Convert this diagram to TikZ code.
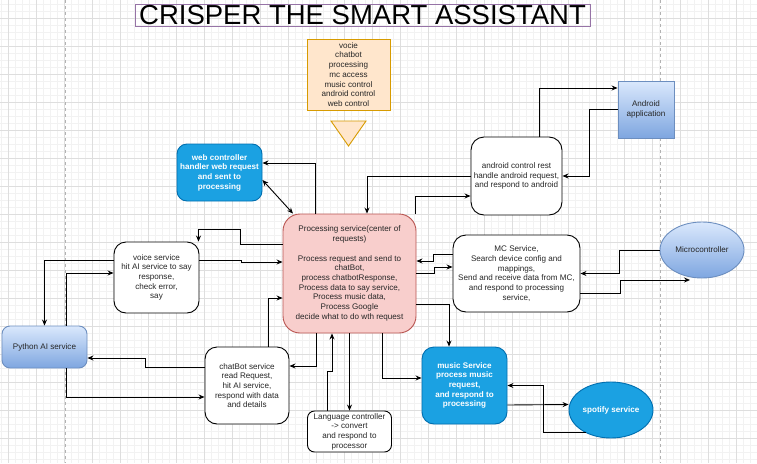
\documentclass[tikz,border=0pt]{standalone}
\usepackage{fontspec}
\setmainfont{Liberation Sans}
\usetikzlibrary{arrows.meta,shapes.geometric}
\definecolor{blaufill}{HTML}{1BA1E2}
\definecolor{blaurand}{HTML}{006EAF}
\definecolor{rotfill}{HTML}{F8CECC}
\definecolor{rotrand}{HTML}{B85450}
\definecolor{orfill}{HTML}{FFE6CC}
\definecolor{orrand}{HTML}{D79B00}
\definecolor{hellblau}{HTML}{DAE8FC}
\definecolor{mittelblau}{HTML}{7EA6E0}
\definecolor{blaurahmen}{HTML}{6C8EBF}
\definecolor{lila}{HTML}{9673A6}
\definecolor{gitterfein}{HTML}{F2F2F2}
\definecolor{gitter}{HTML}{DEDEDE}
\definecolor{schrift}{HTML}{262626}
\begin{document}
\begin{tikzpicture}[x=1pt,y=-1pt]
\tikzset{kasten/.style={draw=black,fill=white,rounded corners=12pt,align=center,line width=0.9pt,inner sep=1pt,text=schrift,font=\fontsize{8.1}{9.7}\selectfont},
  blaukasten/.style={kasten,fill=blaufill,draw=blaurand,text=white,font=\fontsize{8.1}{9.7}\selectfont\bfseries},
  verlauf/.style={kasten,top color=hellblau,bottom color=mittelblau,draw=blaurahmen,rounded corners=0pt},
  pfeil/.style={-{Stealth[length=6pt,width=5pt]},line width=0.9pt},
  doppelpfeil/.style={{Stealth[length=6pt,width=5pt]}-{Stealth[length=6pt,width=5pt]},line width=0.9pt}}
\useasboundingbox (0,0) rectangle (757,463);
\fill[white] (0,0) rectangle (757,463);
% Raster
\foreach \gx in {1,8,...,757} \draw[gitterfein,line width=0.5pt] (\gx,0) -- (\gx,463);
\foreach \gy in {4,11,...,463} \draw[gitterfein,line width=0.5pt] (0,\gy) -- (757,\gy);
\foreach \gx in {8,36,...,757} \draw[gitter,line width=0.7pt] (\gx,0) -- (\gx,463);
\foreach \gy in {18,46,...,463} \draw[gitter,line width=0.7pt] (0,\gy) -- (757,\gy);
\draw[black!30,line width=0.7pt,dash pattern=on 3pt off 3pt] (65,0) -- (65,463);
\draw[black!30,line width=0.7pt,dash pattern=on 3pt off 3pt] (660,0) -- (660,463);
% Knoten
\node[draw=lila,line width=0.8pt,minimum width=455pt,minimum height=22pt,inner sep=1pt,text height=19pt,text depth=1pt,font=\fontsize{27.5}{30}\selectfont] (title) at (362.5,15) {CRISPER THE SMART ASSISTANT};
\node[kasten,fill=orfill,draw=orrand,rounded corners=0pt,minimum width=83pt,minimum height=71pt] (roles) at (348.5,74.5) {vocie\\chatbot\\processing\\mc access\\music control\\android control\\web control};
\draw[fill=orfill,draw=orrand,line width=0.9pt] (331,121) -- (366,121) -- (348.5,146) -- cycle;
\node[blaukasten,rounded corners=10pt,minimum width=85pt,minimum height=57pt] (web) at (219.5,172.5) {web controller\\handler web request\\and sent to\\processing};
\node[kasten,fill=rotfill,draw=rotrand,rounded corners=17pt,minimum width=133pt,minimum height=119pt] (proc) at (349.5,273.5) {Processing service(center of\\requests)\\[9.7pt]Process request and send to\\chatBot,\\process chatbotResponse,\\Process data to say service,\\Process music data,\\Process Google\\decide what to do wth request};
\node[kasten,rounded corners=13pt,minimum width=91pt,minimum height=78pt] (andrest) at (516.5,176) {android control rest\\handle android request,\\and respond to android};
\node[verlauf,minimum width=56pt,minimum height=57pt] (andapp) at (646,109.5) {Android\\application};
\node[kasten,rounded corners=13pt,minimum width=127pt,minimum height=77pt] (mc) at (516.5,273.5) {MC Service,\\Search device config and\\mappings,\\Send and receive data from MC,\\and respond to processing\\service,};
\node[verlauf,ellipse,minimum width=84pt,minimum height=56pt] (micro) at (702,250) {Microcontroller};
\node[kasten,rounded corners=12pt,minimum width=85pt,minimum height=71pt] (voice) at (156.5,277.5) {voice service\\hit AI service to say\\response,\\check error,\\say};
\node[verlauf,rounded corners=8pt,minimum width=85pt,minimum height=42pt] (python) at (44.5,347) {Python AI service};
\node[kasten,rounded corners=12pt,minimum width=84pt,minimum height=77pt] (chatbot) at (247,385.5) {chatBot service\\read Request,\\hit AI service,\\respond with data\\and details};
\node[kasten,rounded corners=7pt,minimum width=84pt,minimum height=41pt] (lang) at (349.5,431.5) {Language controller\\-> convert\\and respond to\\processor};
\node[blaukasten,rounded corners=12pt,minimum width=85pt,minimum height=77pt] (music) at (464.5,385.5) {music Service\\process music\\request,\\and respond to\\processing};
\node[blaukasten,ellipse,minimum width=84pt,minimum height=56pt] (spotify) at (611,410) {spotify service};
% Verbindungen
\draw[pfeil] ([xshift=-34.5]proc.north) |- ([yshift=9.5]web.east);
\draw[doppelpfeil] ([yshift=-7.5]web.east) -- ([xshift=-56.5]proc.north);
\draw[pfeil] (andrest.west) -| ([xshift=17.5]proc.north);
\draw[pfeil] ([xshift=65.5]proc.north) |- ([yshift=-20]andrest.west);
\draw[pfeil] ([xshift=22.5]andrest.north) |- ([yshift=21.5]andapp.west);
\draw[pfeil] (andapp.west) -- ++(-28,0) |- (andrest.east);
\draw[pfeil] ([yshift=19.5]mc.west) -- ++(-19,0) |- ([yshift=12.5]proc.east);
\draw[pfeil] (proc.east) -- ++(18,0) |- ([yshift=6.5]mc.west);
\draw[pfeil] (micro.west) -- ++(-40,0) |- (mc.east);
\draw[pfeil] ([yshift=-19.5]mc.east) -- ++(40,0) |- ([xshift=-12,yshift=-30]micro.center);
\draw[pfeil] ([yshift=29.5]proc.west) -- ++(-42,0) -- ++(0,-15) -| ([xshift=42]voice.north);
\draw[pfeil] ([yshift=17.5]voice.east) -- ++(42,0) |- ([yshift=11.5]proc.west);
\draw[pfeil] ([yshift=17.5]voice.west) -| (python.north);
\draw[pfeil] ([xshift=21.5]python.north) |- ([yshift=4.5]voice.west);
\draw[pfeil] ([yshift=18.5]chatbot.west) -- ++(-59,0) |- ([yshift=-11]python.east);
\draw[pfeil] ([xshift=21.5]python.south) |- ([yshift=-11.5]chatbot.west);
\draw[pfeil] ([xshift=21]chatbot.north) |- ([yshift=-24.5]proc.west);
\draw[pfeil] ([xshift=-33.5]proc.south) |- ([yshift=19.5]chatbot.east);
\draw[pfeil] ([xshift=-22.5]lang.north) -- ++(0,-39) -| ([xshift=-17.5]proc.south);
\draw[pfeil] (proc.south) -- (lang.north);
\draw[pfeil] ([xshift=32.5]proc.south) |- ([yshift=7.5]music.west);
\draw[pfeil] ([yshift=-30.5]proc.east) -| ([xshift=-15.5]music.north);
\draw[pfeil] ([yshift=-19.5]music.east) -- ([yshift=5.5]spotify.west);
\draw[pfeil] (spotify.222) -- ++(-42,0) |- (music.east);
\end{tikzpicture}
\end{document}
